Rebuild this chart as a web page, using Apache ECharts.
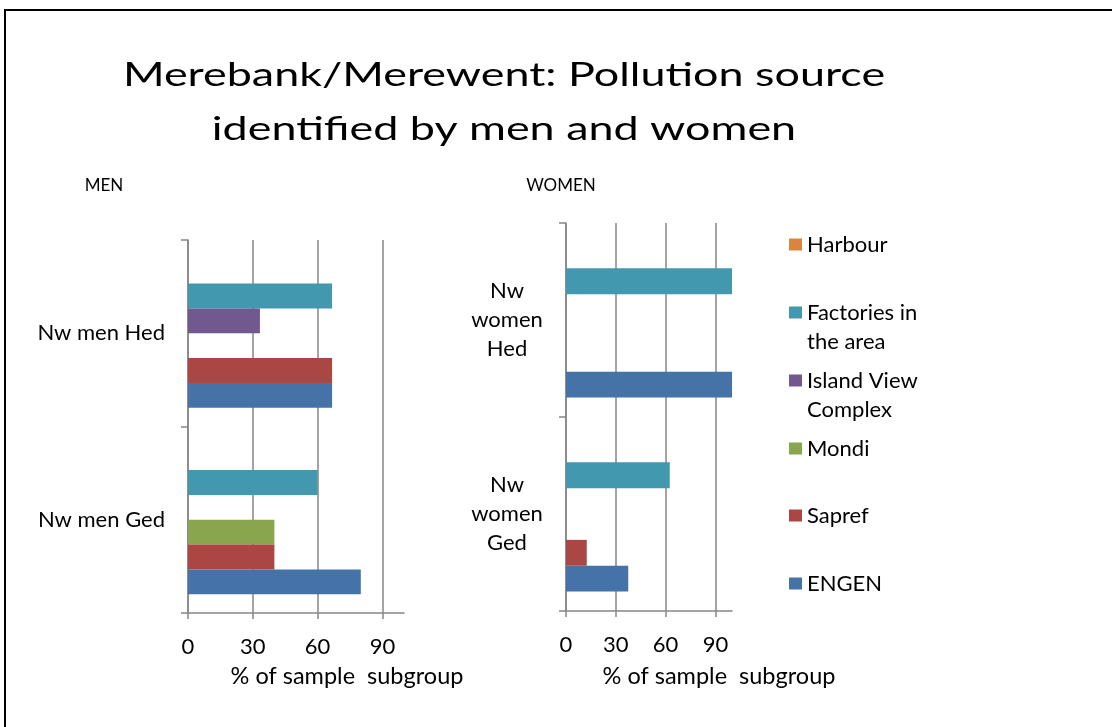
<!DOCTYPE html>
<html>
<head>
<meta charset="utf-8">
<script src="https://cdn.jsdelivr.net/npm/echarts@6/dist/echarts.min.js"></script>
<style>
  html, body { margin: 0; background: #fff; }
  #chart { width: 1112px; height: 727px; }
</style>
</head>
<body>
<div id="chart"></div>
<script>
// categories (first one sits at the bottom of the axis)
const menGroups = ['Nw men Ged', 'Nw men Hed'];
const womenGroups = ['Nw women Ged', 'Nw women Hed'];
const xTicks = [0, 30, 60, 90];

// series order = legend order (top to bottom inside each group)
const sources = ['Harbour', 'Factories in the area', 'Island View Complex', 'Mondi', 'Sapref', 'ENGEN'];
const sourceColors = ['#DB843D', '#4198AF', '#71588F', '#89A54E', '#AA4643', '#4572A7'];

// % of sample subgroup, [Ged, Hed]
const harbourMen = [0, 0];
const factoriesMen = [60, 66.7];
const islandViewMen = [0, 33.3];
const mondiMen = [40, 0];
const saprefMen = [40, 66.7];
const engenMen = [80, 66.7];

const harbourWomen = [0, 0];
const factoriesWomen = [62.5, 100];
const islandViewWomen = [0, 0];
const mondiWomen = [0, 0];
const saprefWomen = [12.5, 0];
const engenWomen = [37.5, 100];

const menValues = [harbourMen, factoriesMen, islandViewMen, mondiMen, saprefMen, engenMen];
const womenValues = [harbourWomen, factoriesWomen, islandViewWomen, mondiWomen, saprefWomen, engenWomen];

const FONT = 'Lato';
const AXIS_GREY = '#868686';

const legendText = {
  'Harbour': 'Harbour',
  'Factories in the area': '\nFactories in\nthe area',
  'Island View Complex': '\nIsland View\nComplex',
  'Mondi': 'Mondi',
  'Sapref': 'Sapref',
  'ENGEN': 'ENGEN'
};
const legendTops = [230, 269, 337, 434, 501, 569];

function xAxisFor(gridIndex) {
  return {
    gridIndex: gridIndex,
    type: 'value',
    min: 0,
    max: 100,
    axisLine: { show: true, lineStyle: { color: AXIS_GREY, width: 1.5 } },
    axisTick: { show: true, length: 6, customValues: xTicks, lineStyle: { color: AXIS_GREY, width: 1.5 } },
    axisLabel: { customValues: xTicks, margin: 23, fontFamily: FONT, fontSize: 22, color: '#000' },
    splitLine: {
      show: true,
      lineStyle: { color: [AXIS_GREY, AXIS_GREY, AXIS_GREY, AXIS_GREY, 'rgba(0,0,0,0)'], width: 1.5 }
    }
  };
}

function yAxisFor(gridIndex, groups, labelOpts) {
  return {
    gridIndex: gridIndex,
    type: 'category',
    data: groups,
    axisLine: { show: true, lineStyle: { color: AXIS_GREY, width: 1.5 } },
    axisTick: { show: true, length: 7, lineStyle: { color: AXIS_GREY, width: 1.5 } },
    splitLine: { show: false },
    axisLabel: labelOpts
  };
}

const series = [];
sources.forEach((name, i) => {
  series.push({
    name: name, type: 'bar', xAxisIndex: 0, yAxisIndex: 0,
    data: menValues[i], color: sourceColors[i],
    barGap: '0%', barCategoryGap: '20%'
  });
  series.push({
    name: name, type: 'bar', xAxisIndex: 1, yAxisIndex: 1,
    data: womenValues[i], color: sourceColors[i],
    barGap: '0%', barCategoryGap: '20%'
  });
});

const chart = echarts.init(document.getElementById('chart'));
chart.setOption({
  animation: false,
  backgroundColor: '#fff',
  textStyle: { fontFamily: FONT },
  grid: [
    { left: 188, top: 240, width: 216, height: 373, outerBoundsMode: 'none' },
    { left: 566, top: 223, width: 166, height: 388, outerBoundsMode: 'none' }
  ],
  xAxis: [xAxisFor(0), xAxisFor(1)],
  yAxis: [
    yAxisFor(0, menGroups, { margin: 23, fontFamily: FONT, fontSize: 22, color: '#000' }),
    yAxisFor(1, womenGroups, {
      margin: 59, align: 'center', fontFamily: FONT, fontSize: 22, lineHeight: 29, color: '#000',
      formatter: v => v.split(' ').join('\n')
    })
  ],
  legend: sources.map((name, i) => ({
    data: [name],
    orient: 'vertical',
    left: 789,
    top: legendTops[i],
    padding: 0,
    itemGap: 0,
    itemWidth: 13,
    itemHeight: 12,
    icon: 'rect',
    selectedMode: false,
    formatter: n => legendText[n],
    textStyle: { fontFamily: FONT, fontSize: 22, lineHeight: 29, color: '#000' }
  })),
  graphic: [
    { type: 'line', shape: { x1: 4, y1: 10, x2: 1112, y2: 10 }, style: { stroke: '#000', lineWidth: 2 } },
    { type: 'line', shape: { x1: 5, y1: 10, x2: 5, y2: 727 }, style: { stroke: '#000', lineWidth: 2 } },
    {
      type: 'text', x: 504, y: 75, scaleX: 1.36,
      style: { text: 'Merebank/Merewent: Pollution source', font: '33px Lato', fill: '#000', align: 'center', verticalAlign: 'middle' }
    },
    {
      type: 'text', x: 504, y: 129, scaleX: 1.36,
      style: { text: 'identified by men and women', font: '33px Lato', fill: '#000', align: 'center', verticalAlign: 'middle' }
    },
    { type: 'text', x: 104, y: 186, style: { text: 'MEN', font: '17px Lato', fill: '#000', align: 'center', verticalAlign: 'middle' } },
    { type: 'text', x: 561, y: 186, style: { text: 'WOMEN', font: '17px Lato', fill: '#000', align: 'center', verticalAlign: 'middle' } },
    { type: 'text', x: 347, y: 676, style: { text: '% of sample  subgroup', font: '23.5px Lato', fill: '#000', align: 'center', verticalAlign: 'middle' } },
    { type: 'text', x: 719, y: 676, style: { text: '% of sample  subgroup', font: '23.5px Lato', fill: '#000', align: 'center', verticalAlign: 'middle' } }
  ],
  series: series
});
</script>
</body>
</html>
